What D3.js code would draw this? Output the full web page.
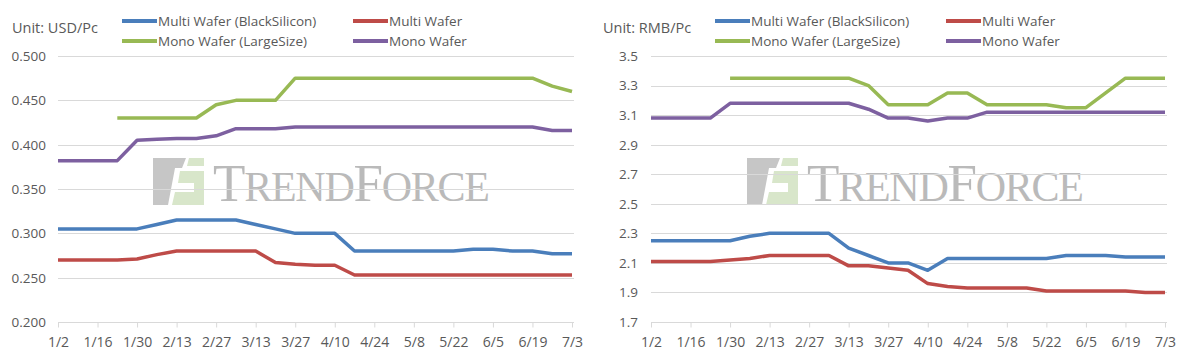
<!DOCTYPE html>
<html>
<head>
<meta charset="utf-8">
<script src="https://cdn.jsdelivr.net/npm/d3@7"></script>
<style>
  body { margin: 0; background: #fff; }
  text { font-family: "Open Sans", "Noto Sans", sans-serif; fill: #595959; }
</style>
</head>
<body>
<script>
const W = 1186, H = 362;

// weekly dates, 1/2 .. 7/3
const dates = ["1/2","1/9","1/16","1/23","1/30","2/6","2/13","2/20","2/27","3/6","3/13","3/20","3/27",
  "4/3","4/10","4/17","4/24","5/1","5/8","5/15","5/22","5/29","6/5","6/12","6/19","6/26","7/3"];
const tickLabels = ["1/2","1/16","1/30","2/13","2/27","3/13","3/27","4/10","4/24","5/8","5/22","6/5","6/19","7/3"];

const seriesNames = ["Multi Wafer (BlackSilicon)", "Multi Wafer", "Mono Wafer (LargeSize)", "Mono Wafer"];
const colors = ["#4a7ebb", "#be4b48", "#98b954", "#7d60a0"];

// USD/Pc
const usdBlackSi = [0.305,0.305,0.305,0.305,0.305,0.310,0.315,0.315,0.315,0.315,0.310,0.305,0.300,
  0.300,0.300,0.280,0.280,0.280,0.280,0.280,0.280,0.282,0.282,0.280,0.280,0.277,0.277];
const usdMulti = [0.270,0.270,0.270,0.270,0.271,0.276,0.280,0.280,0.280,0.280,0.280,0.267,0.265,
  0.264,0.264,0.253,0.253,0.253,0.253,0.253,0.253,0.253,0.253,0.253,0.253,0.253,0.253];
const usdMonoLarge = [null,null,null,0.430,0.430,0.430,0.430,0.430,0.445,0.450,0.450,0.450,0.475,
  0.475,0.475,0.475,0.475,0.475,0.475,0.475,0.475,0.475,0.475,0.475,0.475,0.466,0.460];
const usdMono = [0.382,0.382,0.382,0.382,0.405,0.406,0.407,0.407,0.410,0.418,0.418,0.418,0.420,
  0.420,0.420,0.420,0.420,0.420,0.420,0.420,0.420,0.420,0.420,0.420,0.420,0.416,0.416];
const usdTicks = [0.200,0.250,0.300,0.350,0.400,0.450,0.500];

// RMB/Pc
const rmbBlackSi = [2.25,2.25,2.25,2.25,2.25,2.28,2.30,2.30,2.30,2.30,2.20,2.15,2.10,
  2.10,2.05,2.13,2.13,2.13,2.13,2.13,2.13,2.15,2.15,2.15,2.14,2.14,2.14];
const rmbMulti = [2.11,2.11,2.11,2.11,2.12,2.13,2.15,2.15,2.15,2.15,2.08,2.08,2.065,
  2.05,1.96,1.94,1.93,1.93,1.93,1.93,1.91,1.91,1.91,1.91,1.91,1.90,1.90];
const rmbMonoLarge = [null,null,null,null,3.35,3.35,3.35,3.35,3.35,3.35,3.35,3.30,3.17,
  3.17,3.17,3.25,3.25,3.17,3.17,3.17,3.17,3.15,3.15,3.25,3.35,3.35,3.35];
const rmbMono = [3.08,3.08,3.08,3.08,3.18,3.18,3.18,3.18,3.18,3.18,3.18,3.14,3.08,
  3.08,3.06,3.08,3.08,3.12,3.12,3.12,3.12,3.12,3.12,3.12,3.12,3.12,3.12];
const rmbTicks = [1.7,1.9,2.1,2.3,2.5,2.7,2.9,3.1,3.3,3.5];

const svg = d3.select("body").append("svg").attr("width", W).attr("height", H);

function drawPanel(opt) {
  const g = svg.append("g");
  const x = d3.scalePoint().domain(dates).range([opt.x0, opt.x1]);
  const y = d3.scaleLinear().domain(opt.domain).range([322, 56]);

  // watermark
  const wm = g.append("g").attr("transform", `translate(${opt.wmX},0)`).attr("opacity", 0.8);
  wm.append("path").attr("d", "M0,158 L33,158 L29,168 L22,168 L15,205 L0,205 Z").attr("fill", "#b8b8b8");
  wm.append("path").attr("d", "M36,158 L51,158 L51,166 L34,166 Z").attr("fill", "#cfe0bd");
  wm.append("path").attr("d", "M27,171 L51,171 L51,205 L19,205 L22,192 L41,192 L41,183 L25,183 Z").attr("fill", "#cfe0bd");
  const wt = wm.append("text").attr("x", 60).attr("y", 201)
    .attr("textLength", 277).attr("lengthAdjust", "spacing")
    .style("font-family", "'Liberation Serif', 'DejaVu Serif', serif")
    .style("fill", "#a9a9a9");
  wt.append("tspan").attr("font-size", 53).text("T");
  wt.append("tspan").attr("font-size", 42).text("REND");
  wt.append("tspan").attr("font-size", 53).text("F");
  wt.append("tspan").attr("font-size", 42).text("ORCE");

  // gridlines
  g.append("g").selectAll("line").data(opt.ticks.slice(1)).join("line")
    .attr("x1", opt.x0).attr("x2", opt.x1 + 2)
    .attr("y1", d => Math.round(y(d)) + 0.5).attr("y2", d => Math.round(y(d)) + 0.5)
    .attr("stroke", "#d9d9d9").attr("stroke-width", 1);

  // x axis
  const xa = g.append("g").attr("transform", "translate(0,322.5)")
    .call(d3.axisBottom(x).tickValues(tickLabels).tickSize(5).tickPadding(10));
  xa.select(".domain").attr("stroke", "#d9d9d9").attr("d", `M${opt.x0},0H${opt.x1 + 2}`);
  xa.selectAll(".tick line").attr("stroke", "#d9d9d9");
  xa.selectAll(".tick text").attr("font-size", 14).style("font-family", null).attr("fill", null);

  // y axis labels
  g.append("g").selectAll("text").data(opt.ticks).join("text")
    .attr("x", opt.labelX).attr("y", d => y(d)).attr("dy", "0.36em")
    .attr("text-anchor", "end").attr("font-size", 13.5)
    .text(d => opt.fmt(d));

  // unit label
  g.append("text").attr("x", opt.unitX).attr("y", 33).attr("font-size", 14.5).text(opt.unit);

  // lines
  const line = d3.line().defined(d => d[1] != null).x(d => x(d[0])).y(d => y(d[1]));
  opt.series.forEach((s, k) => {
    g.append("path").datum(dates.map((d, i) => [d, s[i]]))
      .attr("d", line).attr("fill", "none")
      .attr("stroke", colors[k]).attr("stroke-width", 3.5)
      .attr("stroke-linejoin", "round");
  });

  // legend
  const lx = [opt.legX, opt.legX + 231];
  const ly = [21, 41];
  [0, 2, 1, 3].forEach(k => {
    const col = k === 1 || k === 3 ? 1 : 0, row = k >= 2 ? 1 : 0;
    const lg = g.append("g").attr("transform", `translate(${lx[col]},${ly[row]})`);
    lg.append("line").attr("x1", 0).attr("x2", 35).attr("stroke", colors[k]).attr("stroke-width", 4);
    lg.append("text").attr("x", 36).attr("dy", "0.36em").attr("font-size", 13.5).text(seriesNames[k]);
  });
}

drawPanel({
  x0: 58, x1: 572, domain: [0.2, 0.5], ticks: usdTicks, fmt: d3.format(".3f"),
  labelX: 46, unitX: 12, unit: "Unit: USD/Pc", legX: 122, wmX: 153,
  series: [usdBlackSi, usdMulti, usdMonoLarge, usdMono]
});
drawPanel({
  x0: 651, x1: 1165, domain: [1.7, 3.5], ticks: rmbTicks, fmt: d3.format(".1f"),
  labelX: 638, unitX: 603, unit: "Unit: RMB/Pc", legX: 715, wmX: 747,
  series: [rmbBlackSi, rmbMulti, rmbMonoLarge, rmbMono]
});
</script>
</body>
</html>
